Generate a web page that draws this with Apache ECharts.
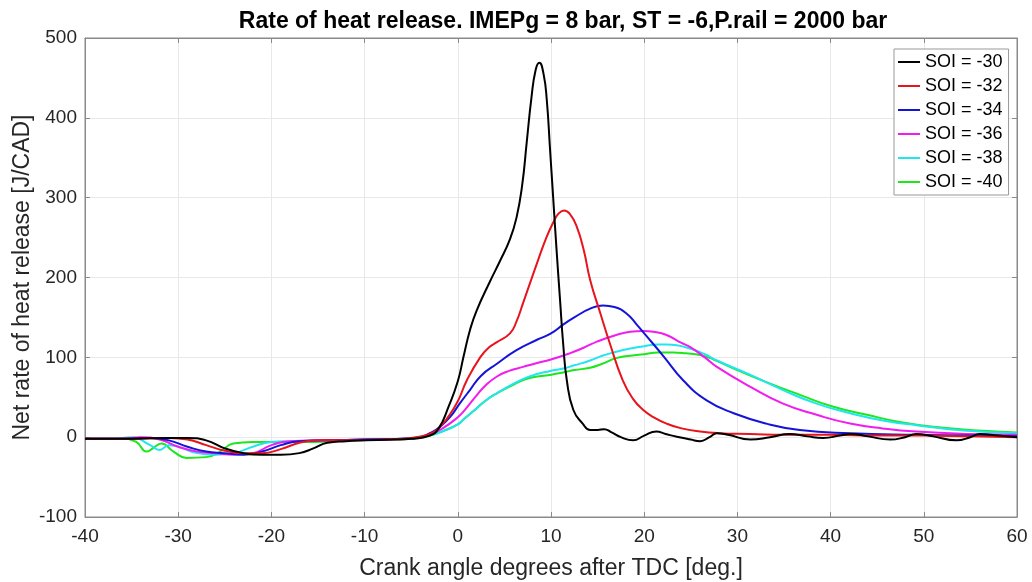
<!DOCTYPE html>
<html>
<head>
<meta charset="utf-8">
<script src="https://cdn.jsdelivr.net/npm/echarts@6/dist/echarts.min.js"></script>
<style>html,body{margin:0;padding:0;background:#fff}#c{width:1032px;height:582px}</style>
</head>
<body>
<div id="c"></div>
<script>
const seriesNames = ['SOI = -30','SOI = -32','SOI = -34','SOI = -36','SOI = -38','SOI = -40'];
const xTicks = [-40,-30,-20,-10,0,10,20,30,40,50,60];
const yTicks = [-100,0,100,200,300,400,500];

const soi30 = [[-40,-2],[-35,-2],[-31,-1],[-29,-1],[-27,-4],[-25,-14],[-23,-20],[-21,-22],[-19,-22],[-17,-20],[-15.5,-14],[-14,-7],[-12,-5],[-10,-4],[-7,-3],[-5,-2],[-3,2],[-2,12],[-1,38],[0,70],[0.6,100],[1.3,134],[2,158],[3.45,195],[4.5,220],[5.6,248],[6.3,275],[6.9,315],[7.4,370],[7.9,425],[8.35,460],[8.75,469],[9.2,455],[9.55,422],[9.9,360],[10.25,297],[10.6,234],[10.97,172],[11.3,118],[11.7,71],[12.4,34],[13.4,17],[14.2,9],[15,9],[15.7,10],[16.5,6],[17.5,0],[18.8,-4],[20,2],[21.3,7],[22.3,4],[23.5,0.5],[25,-3],[26,-5],[27,0],[27.8,5],[29,3],[31.4,-3],[33.5,0],[35.6,4],[37.5,1],[39.2,-1],[41,2],[42.1,4],[44,1],[46.4,-3],[48,0],[49.2,4],[51,1],[53.5,-4],[55,0],[56,4],[58,2],[60,0]];
const soi32 = [[-40,-2],[-35,-2],[-31,-1],[-29,-3],[-27,-10],[-25,-17],[-23,-20],[-21,-20],[-19,-15],[-17,-7],[-15,-4],[-12,-4],[-8,-3],[-5,-1],[-3,4],[-2,12],[-1,26],[0,45],[1,72],[2.4,100],[3.3,112],[4.2,119],[5.6,130],[6.3,145],[7,168],[8.5,218],[9.5,250],[10.2,268],[10.8,280],[11.4,284],[12,280],[12.75,264],[13.5,235],[14.2,197],[15.3,155],[16.3,118],[17.7,71],[18.8,48],[19.9,34],[21,25],[22.4,17],[24,11],[26,7],[28,5],[31.4,4],[35,3],[40,3],[45,2],[50,2],[55,1],[60,0]];
const soi34 = [[-40,-2],[-35,-2],[-33,-1],[-31,-4],[-29,-12],[-27,-18],[-25,-20],[-23,-22],[-21,-18],[-19,-10],[-17,-5],[-14,-4],[-10,-3],[-6,-2],[-4,0],[-3,5],[-2,12],[-0.84,25],[0.2,42],[1.3,59],[2.5,77],[4.2,92],[6.3,109],[8.5,122],[10,130],[11.3,141],[12.5,150],[14.2,161],[15.6,165],[16.8,163],[18.1,155],[19.2,141],[20.3,126],[22.1,101],[24.2,71],[26.7,46],[29.6,30],[33.1,17],[36.7,9],[42.1,5],[49.2,3],[55,2],[60,1]];
const soi36 = [[-40,-2],[-36,-2],[-34,0],[-32,-3],[-30,-12],[-28,-18],[-26,-20],[-24,-22],[-22,-20],[-20,-10],[-18,-5],[-14,-4],[-10,-3],[-6,-2],[-4,0],[-3,3],[-1.5,12],[0,25],[0.6,32],[2,52],[3,65],[4.2,76],[5.5,83],[7,88],[8.5,93],[9.9,97],[12,105],[13.5,112],[15,120],[17,128],[18.5,132],[19.9,133],[21,132],[22.4,128],[24,118],[24.9,113],[26.5,100],[27.8,88],[31.4,63],[34.9,42],[38.5,28],[42.1,17],[45.6,11],[49.2,7],[54.6,4],[60,3]];
const soi38 = [[-40,-2],[-37,-2],[-35,0],[-33,-10],[-32,-16],[-31,-10],[-30,-12],[-28,-20],[-26,-22],[-24,-20],[-22,-12],[-20,-6],[-18,-5],[-14,-4],[-10,-3],[-6,-2],[-4,0],[-3,2],[-1.5,8],[0,16],[0.6,22],[2,36],[3,46],[4.2,55],[6,67],[7.7,76],[9.9,83],[11.3,86],[12.5,90],[14.2,96],[15.5,102],[17,107],[18.5,111],[20,114],[21.5,116],[22.4,116],[23.5,115],[24.9,111],[26.5,104],[27.8,96],[31.4,78],[34.9,59],[38.5,42],[42.1,30],[45.6,21],[49.2,15],[54.6,8],[60,5]];
const soi40 = [[-40,-2],[-36,-2],[-34.5,-6],[-33.4,-18],[-32.5,-12],[-31.8,-8],[-30.5,-18],[-29.1,-26],[-27,-25],[-25.5,-18],[-24.1,-8],[-22,-6],[-18,-6],[-15.5,-6],[-12,-4],[-8,-3],[-5,-2],[-4,0],[-3,2],[-1.5,8],[0,16],[0.6,22],[2,36],[3,46],[4.2,55],[6,66],[7.7,74],[9.9,78],[11.3,81],[12.5,84],[14.2,87],[15.5,92],[17,99],[18.5,102],[20,104],[21.5,106],[23.1,106],[24.5,105],[26,103],[27.5,97],[29.6,86],[33.1,69],[36.7,53],[40.3,38],[43.9,28],[47.4,19],[51,13],[56.4,8],[60,6]];

const seriesData = [soi30, soi32, soi34, soi36, soi38, soi40];
const colors = ['#000000','#e8141c','#1414d8','#f01cf0','#22e6ef','#1de61d'];

const chart = echarts.init(document.getElementById('c'), null, {renderer:'canvas'});
const font = 'Liberation Sans';
const axisColor = '#8a8a8a';
const textColor = '#262626';

const option = {
  animation: false,
  backgroundColor: '#fff',
  color: colors,
  title: {
    text: 'Rate of heat release. IMEPg = 8 bar, ST = -6,P.rail = 2000 bar',
    left: 558, top: 5, textAlign: 'center',
    textStyle: {fontFamily: font, fontSize: 23, fontWeight: 'bold', color: '#000'}
  },
  grid: {left: 85, right: 15, top: 38, bottom: 65, outerBoundsMode: 'none', containLabel: false,
    show: true, borderColor: axisColor, borderWidth: 1, backgroundColor: '#fff'},
  legend: {
    orient: 'vertical', left: 894, top: 49,
    data: seriesNames,
    backgroundColor: '#fff', borderColor: '#999', borderWidth: 1,
    padding: [4, 6, 4, 3], itemGap: 6, itemWidth: 22, itemHeight: 14,
    itemStyle: {opacity: 0},
    lineStyle: {width: 2},
    textStyle: {fontFamily: font, fontSize: 18, color: '#000'}
  },
  xAxis: [{
    type: 'value', min: xTicks[0], max: xTicks[xTicks.length-1], interval: 10,
    name: 'Crank angle degrees after TDC [deg.]', nameLocation: 'middle', nameGap: 40,
    nameMoveOverlap: false,
    nameTextStyle: {fontFamily: font, fontSize: 23, color: textColor},
    axisLine: {show: true, onZero: false, lineStyle: {color: axisColor}},
    axisTick: {show: true, inside: true, length: 5, lineStyle: {color: axisColor}},
    axisLabel: {fontFamily: font, fontSize: 19, color: textColor, margin: 10},
    splitLine: {show: true, lineStyle: {color: '#e8e8e8'}}
  }, {
    type: 'value', position: 'top', min: xTicks[0], max: xTicks[xTicks.length-1], interval: 10,
    axisLine: {show: true, onZero: false, lineStyle: {color: axisColor}},
    axisTick: {show: true, inside: true, length: 5, lineStyle: {color: axisColor}},
    axisLabel: {show: false}, splitLine: {show: false}
  }],
  yAxis: [{
    type: 'value', min: yTicks[0], max: yTicks[yTicks.length-1], interval: 100,
    name: 'Net rate of heat release [J/CAD]', nameLocation: 'middle', nameGap: 51,
    nameMoveOverlap: false,
    nameTextStyle: {fontFamily: font, fontSize: 23, color: textColor},
    axisLine: {show: true, onZero: false, lineStyle: {color: axisColor}},
    axisTick: {show: true, inside: true, length: 5, lineStyle: {color: axisColor}},
    axisLabel: {fontFamily: font, fontSize: 19, color: textColor, margin: 8},
    splitLine: {show: true, lineStyle: {color: '#e8e8e8'}}
  }, {
    type: 'value', position: 'right', min: yTicks[0], max: yTicks[yTicks.length-1], interval: 100,
    axisLine: {show: true, onZero: false, lineStyle: {color: axisColor}},
    axisTick: {show: true, inside: true, length: 5, lineStyle: {color: axisColor}},
    axisLabel: {show: false}, splitLine: {show: false}
  }],
  series: seriesNames.map((n, i) => ({
    name: n, type: 'line', data: seriesData[i],
    xAxisIndex: 0, yAxisIndex: 0,
    symbol: 'none', smooth: 0.5,
    lineStyle: {width: 2, color: colors[i]},
    itemStyle: {color: colors[i]},
    z: 10 - i
  }))
};
chart.setOption(option);
</script>
</body>
</html>
